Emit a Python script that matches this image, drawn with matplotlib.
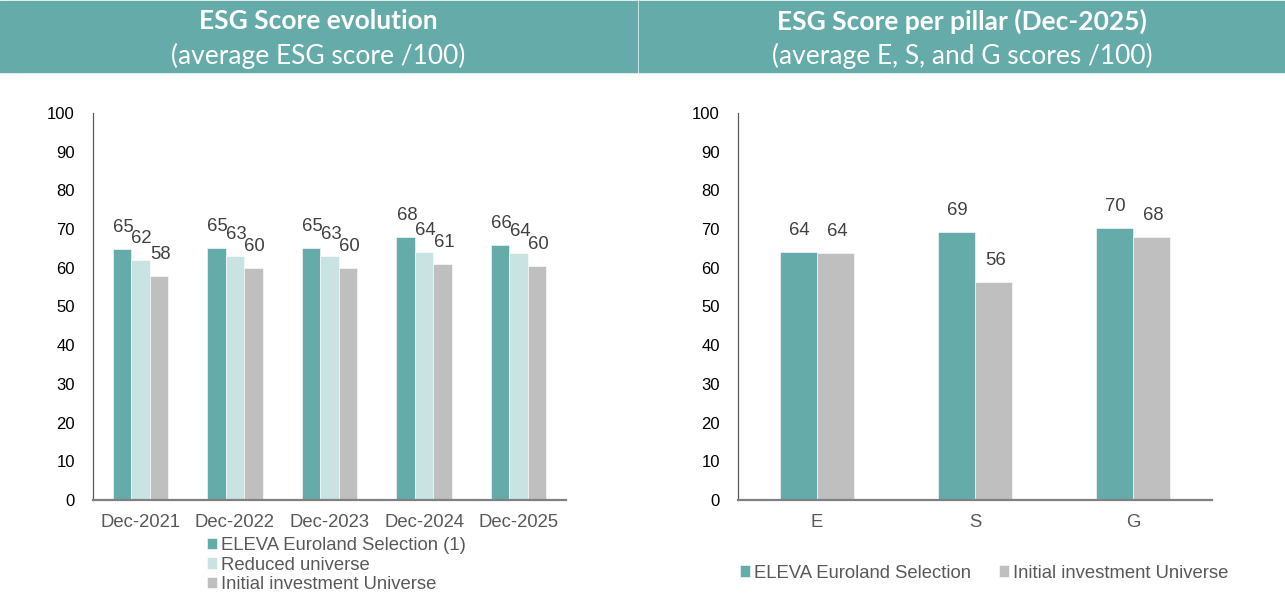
import matplotlib.pyplot as plt
import numpy as np
from matplotlib.patches import Rectangle

# Data
periods = ["Dec-2021", "Dec-2022", "Dec-2023", "Dec-2024", "Dec-2025"]
eleva_hist = [64.9, 65.0, 65.0, 67.9, 65.8]
reduced_hist = [62.0, 63.0, 63.0, 64.0, 63.8]
initial_hist = [57.9, 60.0, 60.0, 61.0, 60.4]
hist_labels = [["65", "65", "65", "68", "66"],
               ["62", "63", "63", "64", "64"],
               ["58", "60", "60", "61", "60"]]

pillars = ["E", "S", "G"]
eleva_pillar = [64.0, 69.3, 70.4]
initial_pillar = [63.7, 56.3, 67.9]
pillar_labels = [["64", "69", "70"], ["64", "56", "68"]]

TEAL = "#64ABAA"
LIGHT = "#C8E3E2"
GREY = "#BFBFBF"
LABEL_C = "#404040"

plt.rcParams['font.family'] = ['Liberation Sans', 'DejaVu Sans']

W, H = 1285, 593
fig = plt.figure(figsize=(W / 100, H / 100), dpi=100)

# header bands
for x0, x1, t1, t2 in [(0, 637, "ESG Score evolution", "(average ESG score /100)"),
                       (639, 1285, "ESG Score per pillar (Dec-2025)",
                        "(average E, S, and G scores /100)")]:
    fig.patches.append(Rectangle((x0 / W, 1 - 72 / H), (x1 - x0) / W, 71 / H,
                                 transform=fig.transFigure, color=TEAL, zorder=0))
    cx = (x0 + x1) / 2 / W
    fig.text(cx, 1 - 21 / H, t1, ha='center', va='center', color='white',
             fontsize=19, fontweight='bold', family='Lato')
    fig.text(cx, 1 - 56 / H, t2, ha='center', va='center', color='white',
             fontsize=19, family='Lato')


def style_axis(ax):
    ax.set_ylim(0, 100)
    ax.set_yticks(np.arange(0, 101, 10))
    for s in ['top', 'right']:
        ax.spines[s].set_visible(False)
    ax.spines['left'].set_color('#595959')
    ax.spines['left'].set_linewidth(0.9)
    ax.spines['bottom'].set_color('#808080')
    ax.spines['bottom'].set_linewidth(1.6)
    ax.tick_params(axis='both', length=0)
    ax.tick_params(axis='y', pad=13, colors='black', labelsize=12)
    ax.tick_params(axis='x', pad=10, labelcolor='#595959', labelsize=13.3)


def add_labels(ax, xs, vals, texts):
    for x, v, t in zip(xs, vals, texts):
        ax.annotate(t, (x, v), xytext=(1, 15.5), textcoords='offset points',
                    ha='center', va='center', fontsize=13.3, color=LABEL_C)


# left chart
ax1 = fig.add_axes([93 / W, 1 - 500 / H, 473 / W, 387 / H])
x = np.arange(len(periods))
bw = 0.195
series = [(eleva_hist, TEAL, "ELEVA Euroland Selection (1)"),
          (reduced_hist, LIGHT, "Reduced universe"),
          (initial_hist, GREY, "Initial investment Universe")]
for i, (vals, col, lab) in enumerate(series):
    xs = x + (i - 1) * bw
    ax1.bar(xs, vals, bw, color=col, label=lab, edgecolor='white', linewidth=0.4)
    add_labels(ax1, xs, vals, hist_labels[i])
ax1.set_xlim(-0.5, len(periods) - 0.5)
ax1.set_xticks(x, periods)
style_axis(ax1)
ax1.legend(loc='center left', bbox_to_anchor=(198 / W, 1 - 565 / H),
           bbox_transform=fig.transFigure, frameon=False, fontsize=13.3,
           handlelength=0.55, handleheight=0.55, handletextpad=0.2,
           labelspacing=0.12, borderpad=0, labelcolor='#595959')

# right chart
ax2 = fig.add_axes([738 / W, 1 - 500 / H, 474 / W, 387 / H])
x2 = np.arange(len(pillars))
bw2 = 0.237
ax2.bar(x2 - bw2 / 2, eleva_pillar, bw2, color=TEAL, label="ELEVA Euroland Selection",
        edgecolor='white', linewidth=0.4)
ax2.bar(x2 + bw2 / 2, initial_pillar, bw2, color=GREY, label="Initial investment Universe",
        edgecolor='white', linewidth=0.4)
add_labels(ax2, x2 - bw2 / 2, eleva_pillar, pillar_labels[0])
add_labels(ax2, x2 + bw2 / 2, initial_pillar, pillar_labels[1])
ax2.set_xlim(-0.5, len(pillars) - 0.5)
ax2.set_xticks(x2, pillars)
style_axis(ax2)
ax2.legend(loc='center left', bbox_to_anchor=(731 / W, 1 - 573 / H),
           bbox_transform=fig.transFigure, frameon=False, fontsize=13.3, ncol=2,
           handlelength=0.55, handleheight=0.55, handletextpad=0.2,
           columnspacing=1.5, borderpad=0, labelcolor='#595959')

fig.savefig("out.png", dpi=100)
